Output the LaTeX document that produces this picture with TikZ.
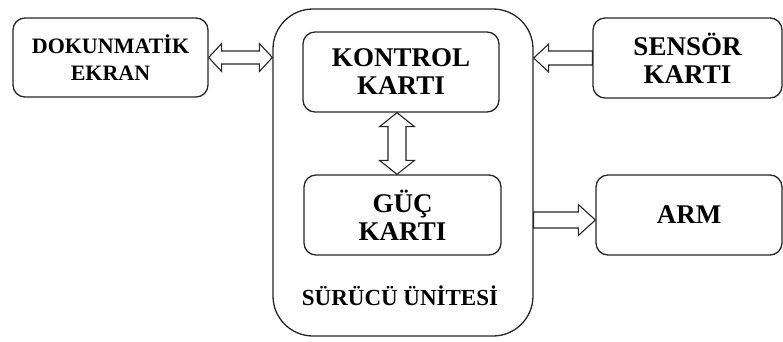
\documentclass[tikz,border=0pt]{standalone}
\usepackage{fontspec}
\setmainfont{Liberation Serif}
\usetikzlibrary{calc}
\begin{document}
\begin{tikzpicture}[x=1pt,y=1pt,
  box/.style={draw=black!85, line width=1.3pt, rounded corners=12pt, align=center,
    font=\bfseries\fontsize{27}{28}\selectfont, inner sep=0pt},
  blockarrow/.style={draw=black!85, line width=1.1pt, fill=white, line join=miter}]
\useasboundingbox (0,0) rectangle (783,-341);

% outer driver unit
\node[draw=black!85, line width=1.3pt, rounded corners=40pt,
      minimum width=260, minimum height=327, inner sep=0pt] (unit) at (403,-172.5) {};
\node[anchor=base, font=\bfseries\fontsize{23}{26}\selectfont] (unitlabel) at (400,-305) {SÜRÜCÜ ÜNİTESİ};

% boxes
\node[box, minimum width=195, minimum height=79,
      font=\bfseries\fontsize{22}{27}\selectfont] (dok) at (110.5,-57.5) {DOKUNMATİK\\EKRAN};
\node[box, minimum width=196, minimum height=80] (kon) at (401,-72) {KONTROL\\KARTI};
\node[box, minimum width=197, minimum height=80] (guc) at (402.5,-215) {GÜÇ\\KARTI};
\node[box, minimum width=189, minimum height=80] (sen) at (687.5,-58) {SENSÖR\\KARTI};
\node[box, minimum width=186, minimum height=80] (arm) at (689,-215) {ARM};

% touch screen <-> driver unit
\coordinate (l1) at (dok.east);
\coordinate (l2) at (unit.west |- dok.east);
\draw[blockarrow] (l1) -- ++(13,14) -- ++(0,-7.5) -- ($(l2)+(-13,6.5)$) -- ++(0,7.5)
  -- (l2) -- ++(-13,-14) -- ++(0,7.5) -- ($(l1)+(13,-6.5)$) -- ++(0,-7.5) -- cycle;

% sensor card -> driver unit
\coordinate (s1) at (unit.east |- sen.west);
\draw[blockarrow] (s1) -- ++(15,14) -- ++(0,-7) -- ($(sen.west)+(0,7)$)
  -- ($(sen.west)+(0,-7)$) -- ($(s1)+(15,-7)$) -- ++(0,-7) -- cycle;

% driver unit -> arm
\coordinate (a1) at ($(unit.east |- 0,-220)$);
\coordinate (a2) at (arm.west |- a1);
\draw[blockarrow] ($(a1)+(0,8)$) -- ($(a2)+(-17,8)$) -- ++(0,7.5) -- (a2)
  -- ++(-17,-15.5) -- ++(0,7.5) -- ($(a1)+(0,-8)$) -- cycle;

% control card <-> power card
\coordinate (v1) at ($(kon.south)+(-4,0)$);
\coordinate (v2) at (v1 |- guc.north);
\draw[blockarrow] (v1) -- ++(17.5,-14) -- ++(-8.5,0) -- ($(v2)+(9,14)$) -- ++(8.5,0)
  -- (v2) -- ++(-17.5,14) -- ++(8.5,0) -- ($(v1)+(-9,-14)$) -- ++(-8.5,0) -- cycle;
\end{tikzpicture}
\end{document}
